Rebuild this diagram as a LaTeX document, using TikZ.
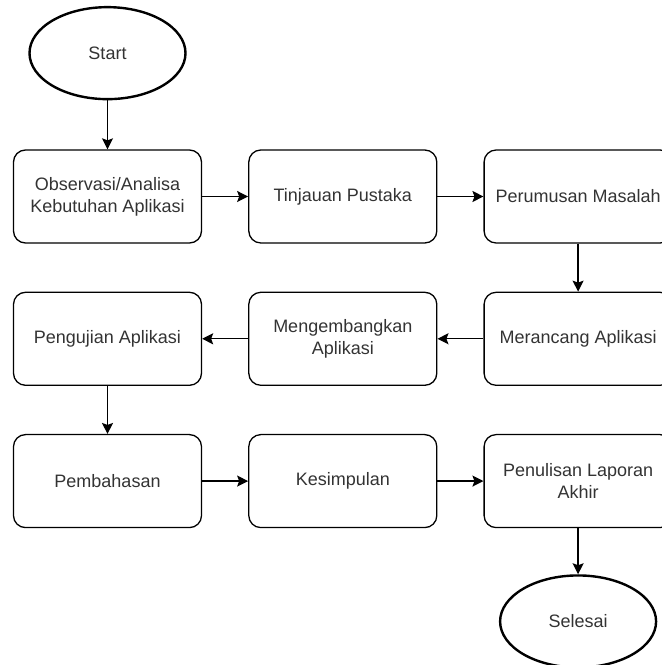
\documentclass[tikz,border=0pt]{standalone}
\usepackage{fontspec}
\setmainfont{Liberation Sans}
\usetikzlibrary{positioning}
\usetikzlibrary{shapes.geometric,arrows.meta}

\tikzset{
	step box/.style={draw, rounded corners=12pt, line width=1.3pt,
		minimum width=188pt, minimum height=93pt, inner sep=0pt,
		align=center, text=black!80, font=\fontsize{18}{22}\selectfont},
	terminal/.style={draw, ellipse, line width=2.4pt,
		minimum width=156pt, minimum height=92pt, inner sep=0pt,
		text=black!80, font=\fontsize{18}{22}\selectfont},
	flow/.style={line width=1.3pt, -{Stealth[length=11pt,width=11pt,inset=2pt]}},
}

\begin{document}
\begin{tikzpicture}[x=1pt,y=1pt]
	\useasboundingbox (0,0) rectangle (662,665);
	\clip (0,0) rectangle (662,665);
	
	% ---------------------
	% First row
	\node[step box] (Observasi) at (107.5,468.5) {Observasi/Analisa\\Kebutuhan Aplikasi};
	\node[step box, right=46pt of Observasi] (Tinjauan) {Tinjauan Pustaka};
	\node[step box, right=46pt of Tinjauan] (Perumusan) {Perumusan Masalah};
	
	% ---------------------
	% Second row (right to left)
	\node[step box, below=48pt of Perumusan] (Merancang) {Merancang Aplikasi};
	\node[step box, left=46pt of Merancang] (Mengembangkan) {Mengembangkan\\Aplikasi};
	\node[step box, left=46pt of Mengembangkan] (Pengujian) {Pengujian Aplikasi};
	
	% ---------------------
	% Third row
	\node[step box, below=48pt of Pengujian] (Pembahasan) {Pembahasan};
	\node[step box, right=46pt of Pembahasan] (Kesimpulan) {Kesimpulan};
	\node[step box, right=46pt of Kesimpulan] (Penulisan) {Penulisan Laporan\\Akhir};
	
	% ---------------------
	% Start & end
	\node[terminal, above=49pt of Observasi] (Start) {Start};
	\node[terminal, below=46pt of Penulisan] (Selesai) {Selesai};
	
	% ------------------------------------------------
	% Flow
	\draw[flow] (Start) -- (Observasi);
	\draw[flow] (Observasi) -- (Tinjauan);
	\draw[flow] (Tinjauan) -- (Perumusan);
	\draw[flow] (Perumusan) -- (Merancang);
	\draw[flow] (Merancang) -- (Mengembangkan);
	\draw[flow] (Mengembangkan) -- (Pengujian);
	\draw[flow] (Pengujian) -- (Pembahasan);
	\draw[flow] (Pembahasan) -- (Kesimpulan);
	\draw[flow] (Kesimpulan) -- (Penulisan);
	\draw[flow] (Penulisan) -- (Selesai);
	
\end{tikzpicture}
\end{document}
